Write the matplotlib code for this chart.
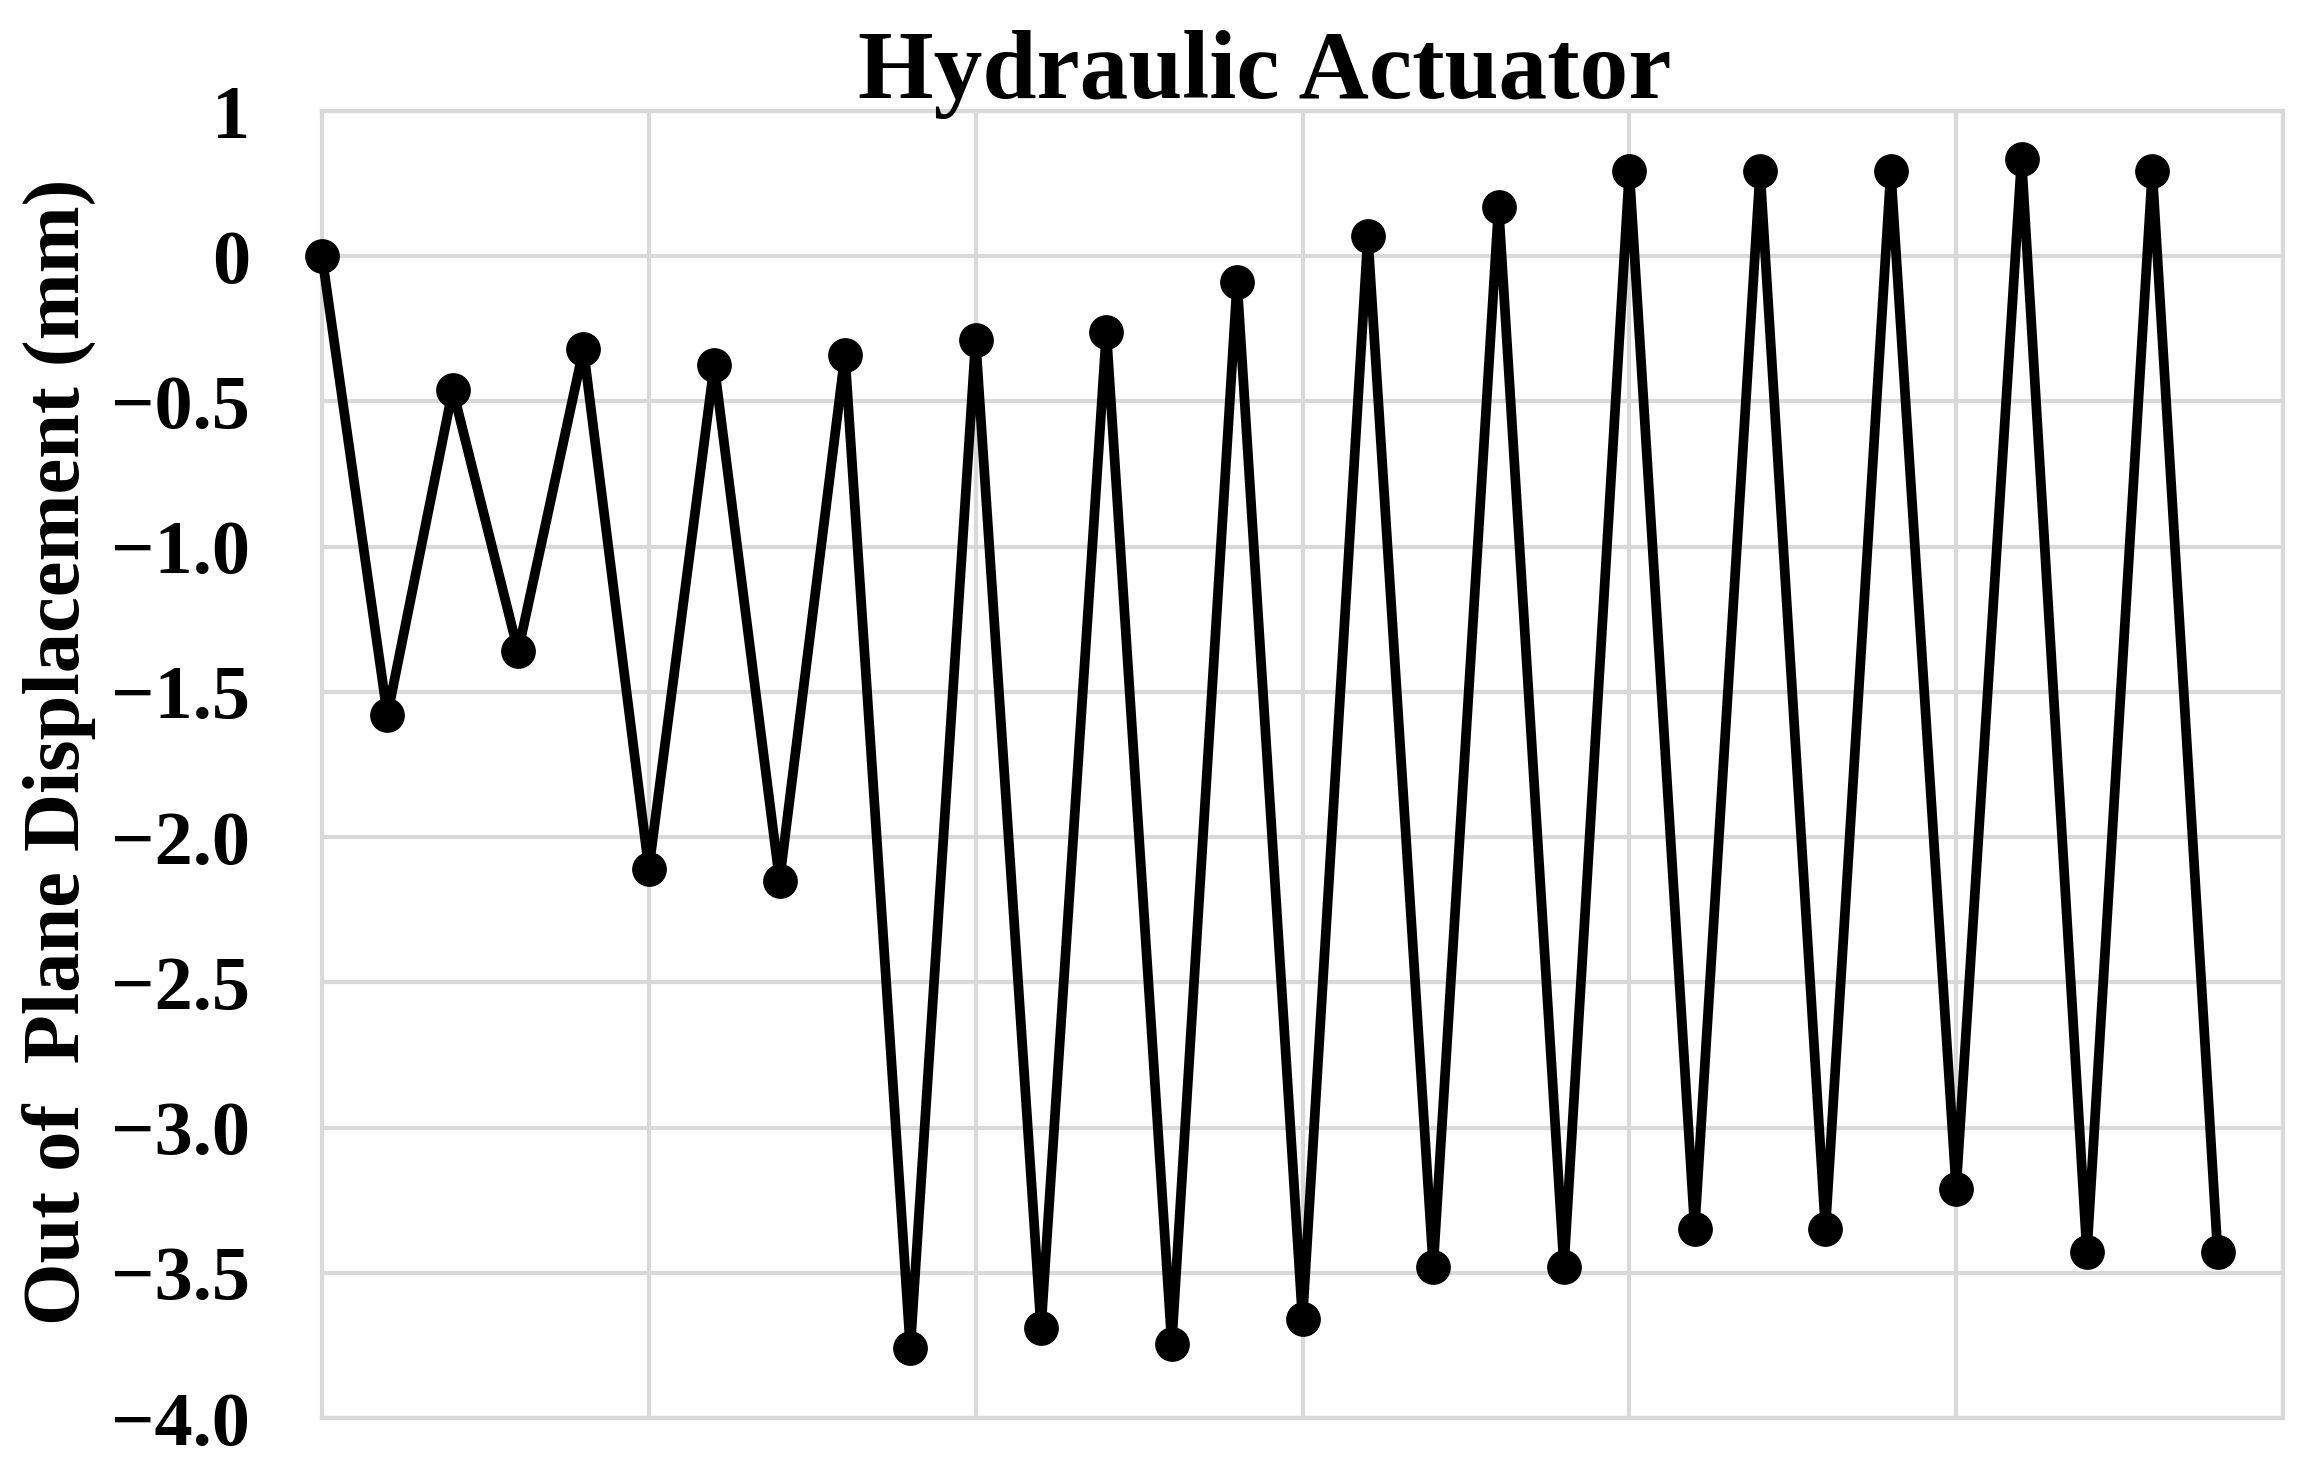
import matplotlib
matplotlib.use("Agg")
import matplotlib.pyplot as plt
import numpy as np

# Data
step = list(range(30))
displacement = [0.0, -1.58, -0.46, -1.36, -0.32, -2.11, -0.375, -2.15, -0.34, -3.76,
                -0.29, -3.69, -0.26, -3.745, -0.09, -3.66, 0.068, -3.48, 0.17, -3.48,
                0.292, -3.35, 0.292, -3.35, 0.292, -3.21, 0.335, -3.43, 0.292, -3.43]
ytick_vals = [0.5, 0.0, -0.5, -1.0, -1.5, -2.0, -2.5, -3.0, -3.5, -4.0]
ytick_labels = ["1", "0", "\u22120.5", "\u22121.0", "\u22121.5", "\u22122.0",
                "\u22122.5", "\u22123.0", "\u22123.5", "\u22124.0"]
xgrid = [0, 5, 10, 15, 20, 25, 30]

title = "Hydraulic Actuator"
ylabel = "Out of  Plane Displacement (mm)"

plt.rcParams['font.family'] = ['Liberation Serif', 'DejaVu Serif']

W, H = 2311, 1465
fig = plt.figure(figsize=(W / 100, H / 100), dpi=100)
ax = fig.add_axes([322 / W, 1 - 1418 / H, (2283 - 322) / W, (1418 - 111) / H])

grid_c = '#d9d9d9'
ax.plot(step, displacement, color='black', lw=7, marker='o', ms=24,
        solid_joinstyle='round', solid_capstyle='round', clip_on=False, zorder=3)

ax.set_xlim(0, 30)
ax.set_ylim(-4.0, 0.5)
ax.set_xticks(xgrid)
ax.set_xticklabels([])
ax.set_yticks(ytick_vals)
ax.set_yticklabels(ytick_labels, fontsize=55, fontweight='bold')
ax.tick_params(axis='both', length=0)
ax.tick_params(axis='y', pad=52)
ax.grid(True, color=grid_c, lw=3, zorder=0)
for s in ax.spines.values():
    s.set_color(grid_c)
    s.set_linewidth(3)
ax.set_axisbelow(True)

fig.text(1265 / W, 1 - 98 / H, title, ha='center', va='baseline',
         fontsize=70, fontweight='bold')
fig.text(59 / W, 1 - 752 / H, ylabel, ha='center', va='center', rotation=90,
         fontsize=58, fontweight='bold')

fig.savefig("out.png", dpi=100)
